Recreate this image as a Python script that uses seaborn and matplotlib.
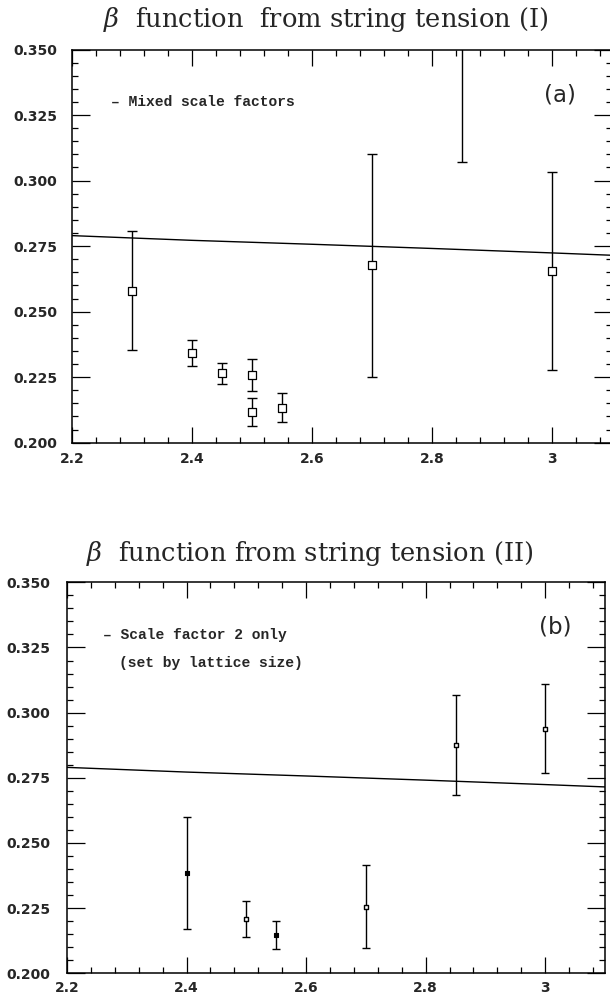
import numpy as np
import pandas as pd
import seaborn as sns
import matplotlib.pyplot as plt
from matplotlib.ticker import MultipleLocator, FuncFormatter

# fitted curve, same in both panels
curve_x = [2.2, 2.4, 2.6, 2.8, 3.0, 3.1]
curve_y = [0.2790, 0.2772, 0.2757, 0.2741, 0.2724, 0.2715]

# panel (a): mixed scale factors
a_x = [2.30, 2.40, 2.45, 2.50, 2.50, 2.55, 2.70, 2.85, 3.00]
a_y = [0.2580, 0.2341, 0.2265, 0.2259, 0.2116, 0.2134, 0.2676, 0.3650, 0.2656]
a_err = [0.0228, 0.0049, 0.0040, 0.0060, 0.0053, 0.0055, 0.0426, 0.0580, 0.0378]

# panel (b): scale factor 2 only
b_x = [2.40, 2.50, 2.55, 2.70, 2.85, 3.00]
b_y = [0.2385, 0.2208, 0.2147, 0.2256, 0.2877, 0.2938]
b_err = [0.0215, 0.0070, 0.0052, 0.0159, 0.0192, 0.0170]
b_filled = [True, False, True, False, False, False]

sns.set_theme(style="ticks")
plt.rcParams['font.family'] = ['DejaVu Sans']
plt.rcParams['mathtext.fontset'] = 'dejavuserif'

fig = plt.figure(figsize=(6.1, 9.99), dpi=100)
ax_a = fig.add_axes([72/610, 1-442.7/999, 540/610, 393.2/999])
ax_b = fig.add_axes([67/610, 1-973.3/999, 538/610, 391/999])


def style_axes(ax, xpad, ypad):
    ax.set_xlim(2.2, 3.1)
    ax.set_ylim(0.2, 0.35)
    ax.xaxis.set_major_locator(MultipleLocator(0.2))
    ax.xaxis.set_minor_locator(MultipleLocator(0.04))
    ax.yaxis.set_major_locator(MultipleLocator(0.025))
    ax.yaxis.set_minor_locator(MultipleLocator(0.005))
    ax.xaxis.set_major_formatter(FuncFormatter(lambda v, p: f"{v:g}"))
    ax.yaxis.set_major_formatter(FuncFormatter(lambda v, p: f"{v:.3f}"))
    ax.tick_params(which='both', direction='in', top=True, right=True,
                   width=0.9, color='black')
    ax.tick_params(axis='x', which='major', length=11.5, pad=xpad)
    ax.tick_params(axis='y', which='major', length=13, pad=ypad)
    ax.tick_params(which='minor', length=4.3)
    for lab in ax.get_xticklabels() + ax.get_yticklabels():
        lab.set_fontweight('bold')
        lab.set_fontsize(10)
    for sp in ax.spines.values():
        sp.set_linewidth(1.1)
        sp.set_color('black')
    ax.set_xlabel('')
    ax.set_ylabel('')


# panel (a)
sns.lineplot(x=curve_x, y=curve_y, ax=ax_a, color='black', lw=1)
ax_a.errorbar(a_x, a_y, yerr=a_err, fmt='none', ecolor='black',
              elinewidth=1, capsize=3.5, capthick=1)
sns.scatterplot(x=a_x, y=a_y, ax=ax_a, marker='s', s=30, facecolor='white',
                edgecolor='black', linewidth=0.9, zorder=3)
style_axes(ax_a, 6.5, 10.5)
ax_a.text(0.072, 0.8665, "– Mixed scale factors", transform=ax_a.transAxes,
          ha='left', va='center', family='Liberation Mono', fontweight='bold',
          fontsize=10.5)
ax_a.text(0.904, 0.884, "(a)", transform=ax_a.transAxes, ha='center',
          va='center', fontsize=16.5)

# panel (b)
sns.lineplot(x=curve_x, y=curve_y, ax=ax_b, color='black', lw=1)
ax_b.errorbar(b_x, b_y, yerr=b_err, fmt='none', ecolor='black',
              elinewidth=1, capsize=3, capthick=1)
df_b = pd.DataFrame({'x': b_x, 'y': b_y, 'filled': b_filled})
sns.scatterplot(data=df_b[~df_b['filled']], x='x', y='y', ax=ax_b, marker='s',
                s=7, facecolor='white', edgecolor='black', linewidth=1, zorder=3)
sns.scatterplot(data=df_b[df_b['filled']], x='x', y='y', ax=ax_b, marker='s',
                s=9, color='black', edgecolor='black', linewidth=0.8, zorder=3)
style_axes(ax_b, 5.5, 12)
ax_b.text(0.067, 0.865, "– Scale factor 2 only", transform=ax_b.transAxes,
          ha='left', va='center', family='Liberation Mono', fontweight='bold',
          fontsize=10.5)
ax_b.text(0.097, 0.7934, "(set by lattice size)", transform=ax_b.transAxes,
          ha='left', va='center', family='Liberation Mono', fontweight='bold',
          fontsize=10.5)
ax_b.text(0.907, 0.886, "(b)", transform=ax_b.transAxes, ha='center',
          va='center', fontsize=16.5)

# titles
fig.text(326/610, 1-19/999, r"$\beta$  function  from string tension (I)",
         ha='center', va='center', family='DejaVu Serif', fontsize=18.5)
fig.text(310/610, 1-553/999, r"$\beta$  function from string tension (II)",
         ha='center', va='center', family='DejaVu Serif', fontsize=18.5)

fig.savefig("out.png", dpi=100)
